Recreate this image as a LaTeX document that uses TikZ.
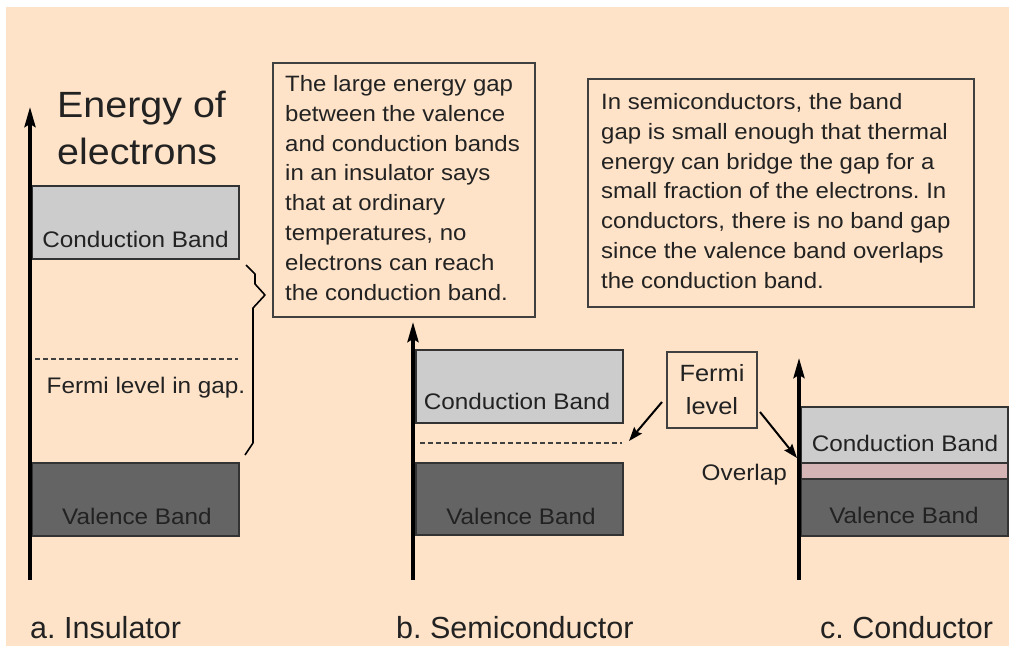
\documentclass[tikz,border=0pt]{standalone}
\usepackage{fontspec}
\setmainfont{Liberation Sans}
\newfontfamily\stretchf[FakeStretch=1.08]{Liberation Sans}
\newfontfamily\labelf{Liberation Sans}
\usetikzlibrary{arrows.meta}
\definecolor{peach}{RGB}{254,227,200}
\definecolor{cbgray}{RGB}{204,204,204}
\definecolor{vbgray}{RGB}{100,100,100}
\definecolor{ovpink}{RGB}{212,180,180}
\definecolor{inkc}{RGB}{34,34,34}
\frenchspacing
\begin{document}
\begin{tikzpicture}[x=1pt,y=-1pt,
  frame/.style={draw=black!75, line width=2pt, inner sep=0pt, anchor=north west},
  band/.style={draw=black!80, line width=1.5pt, inner sep=0pt, anchor=north west},
  cband/.style={band, fill=cbgray},
  vband/.style={band, fill=vbgray},
  oband/.style={band, fill=ovpink},
  btext/.style={font=\stretchf\fontsize{22.5}{27}\selectfont, text=inkc, anchor=base, inner sep=0pt},
  boxtext/.style={font=\stretchf\fontsize{22.2}{29.9}\selectfont, text=inkc, anchor=north west, inner sep=0pt, align=left},
  titletext/.style={font=\stretchf\fontsize{36.5}{46}\selectfont, text=inkc, anchor=base west, inner sep=0pt},
  captext/.style={font=\labelf\fontsize{30.5}{36}\selectfont, text=inkc, anchor=base west, inner sep=0pt},
  axis/.style={line width=3.5pt, -{Stealth[length=20pt,width=11pt,inset=3pt]}},
  fermiline/.style={draw=black!75, line width=1.5pt, dash pattern=on 5pt off 3pt},
  pointer/.style={line width=2pt, -{Stealth[length=14pt,width=10pt,inset=2pt]}}
]
\useasboundingbox (0,0) rectangle (1011,649);
\fill[white] (0,0) rectangle (1011,649);
\fill[peach] (6,7) rectangle (1009,646);

% ---------- Insulator ----------
\node[cband, minimum width=207, minimum height=73] (icb) at (31,185) {};
\node[btext] (icbt) at (135.5,247) {Conduction Band};
\node[vband, minimum width=207, minimum height=73] (ivb) at (31,462) {};
\node[btext] (ivbt) at (137,524) {Valence Band};
\coordinate (ifl0) at (35,359);
\coordinate (ifl1) at (238,359);
\draw[fermiline] (ifl0) -- (ifl1);
\node[btext] (iflt) at (146,393) {Fermi level in gap.};
\coordinate (iax0) at (30,580);
\coordinate (iax1) at (30,107);
\draw[axis] (iax0) -- (iax1);
\node[titletext] (title1) at (57,117) {Energy of};
\node[titletext] (title2) at (57,164) {electrons};
\draw[line width=1.6pt, line join=round]
  (246,265) -- (255,274) -- (255,284) -- (265,295) -- (253,308) -- (253,443) -- (245,455);
\node[captext] (capa) at (30,638) {a. Insulator};

% ---------- Text box 1 ----------
\node[frame, minimum width=262, minimum height=254] (box1) at (272,62) {};
\node[boxtext] (box1t) at (285,75) {The large energy gap\\between the valence\\and conduction bands\\in an insulator says\\that at ordinary\\temperatures, no\\electrons can reach\\the conduction band.};

% ---------- Semiconductor ----------
\node[cband, minimum width=207, minimum height=73] (scb) at (415,349) {};
\node[btext] (scbt) at (517,409) {Conduction Band};
\node[vband, minimum width=207, minimum height=72] (svb) at (415,462) {};
\node[btext] (svbt) at (521,524) {Valence Band};
\coordinate (sfl0) at (420,443);
\coordinate (sfl1) at (622,443);
\draw[fermiline] (sfl0) -- (sfl1);
\coordinate (sax0) at (413,580);
\coordinate (sax1) at (413,322);
\draw[axis] (sax0) -- (sax1);
\node[captext] (capb) at (396,638) {b. Semiconductor};

% ---------- Text box 2 ----------
\node[frame, minimum width=386, minimum height=228] (box2) at (587,78) {};
\node[boxtext] (box2t) at (601,93) {In semiconductors, the band\\gap is small enough that thermal\\energy can bridge the gap for a\\small fraction of the electrons. In\\conductors, there is no band gap\\since the valence band overlaps\\the conduction band.};

% ---------- Fermi level label ----------
\node[draw=black!75, line width=2pt, minimum width=90, minimum height=76, inner sep=0pt, align=center,
      font=\stretchf\fontsize{23.5}{33}\selectfont, text=inkc] (fermi) at (712,390) {Fermi\\level};
\coordinate (fsemi) at (629,441);
\coordinate (fcond) at (797,458);
\draw[pointer] ([xshift=-4pt,yshift=-12pt]fermi.west) -- (fsemi);
\draw[pointer] ([xshift=2pt,yshift=-22pt]fermi.east) -- (fcond);

% ---------- Conductor ----------
\node[cband, minimum width=207, minimum height=56] (ccb) at (800,406) {};
\node[btext] (ccbt) at (905,451) {Conduction Band};
\node[oband, minimum width=207, minimum height=16] (cov) at (800,462) {};
\node[vband, minimum width=207, minimum height=57] (cvb) at (800,478) {};
\node[btext] (cvbt) at (904,523) {Valence Band};
\node[btext, anchor=base east] (ovt) at (787,480) {Overlap};
\coordinate (cax0) at (799,580);
\coordinate (cax1) at (799,358);
\draw[axis] (cax0) -- (cax1);
\node[captext] (capc) at (820,638) {c. Conductor};
\end{tikzpicture}
\end{document}
